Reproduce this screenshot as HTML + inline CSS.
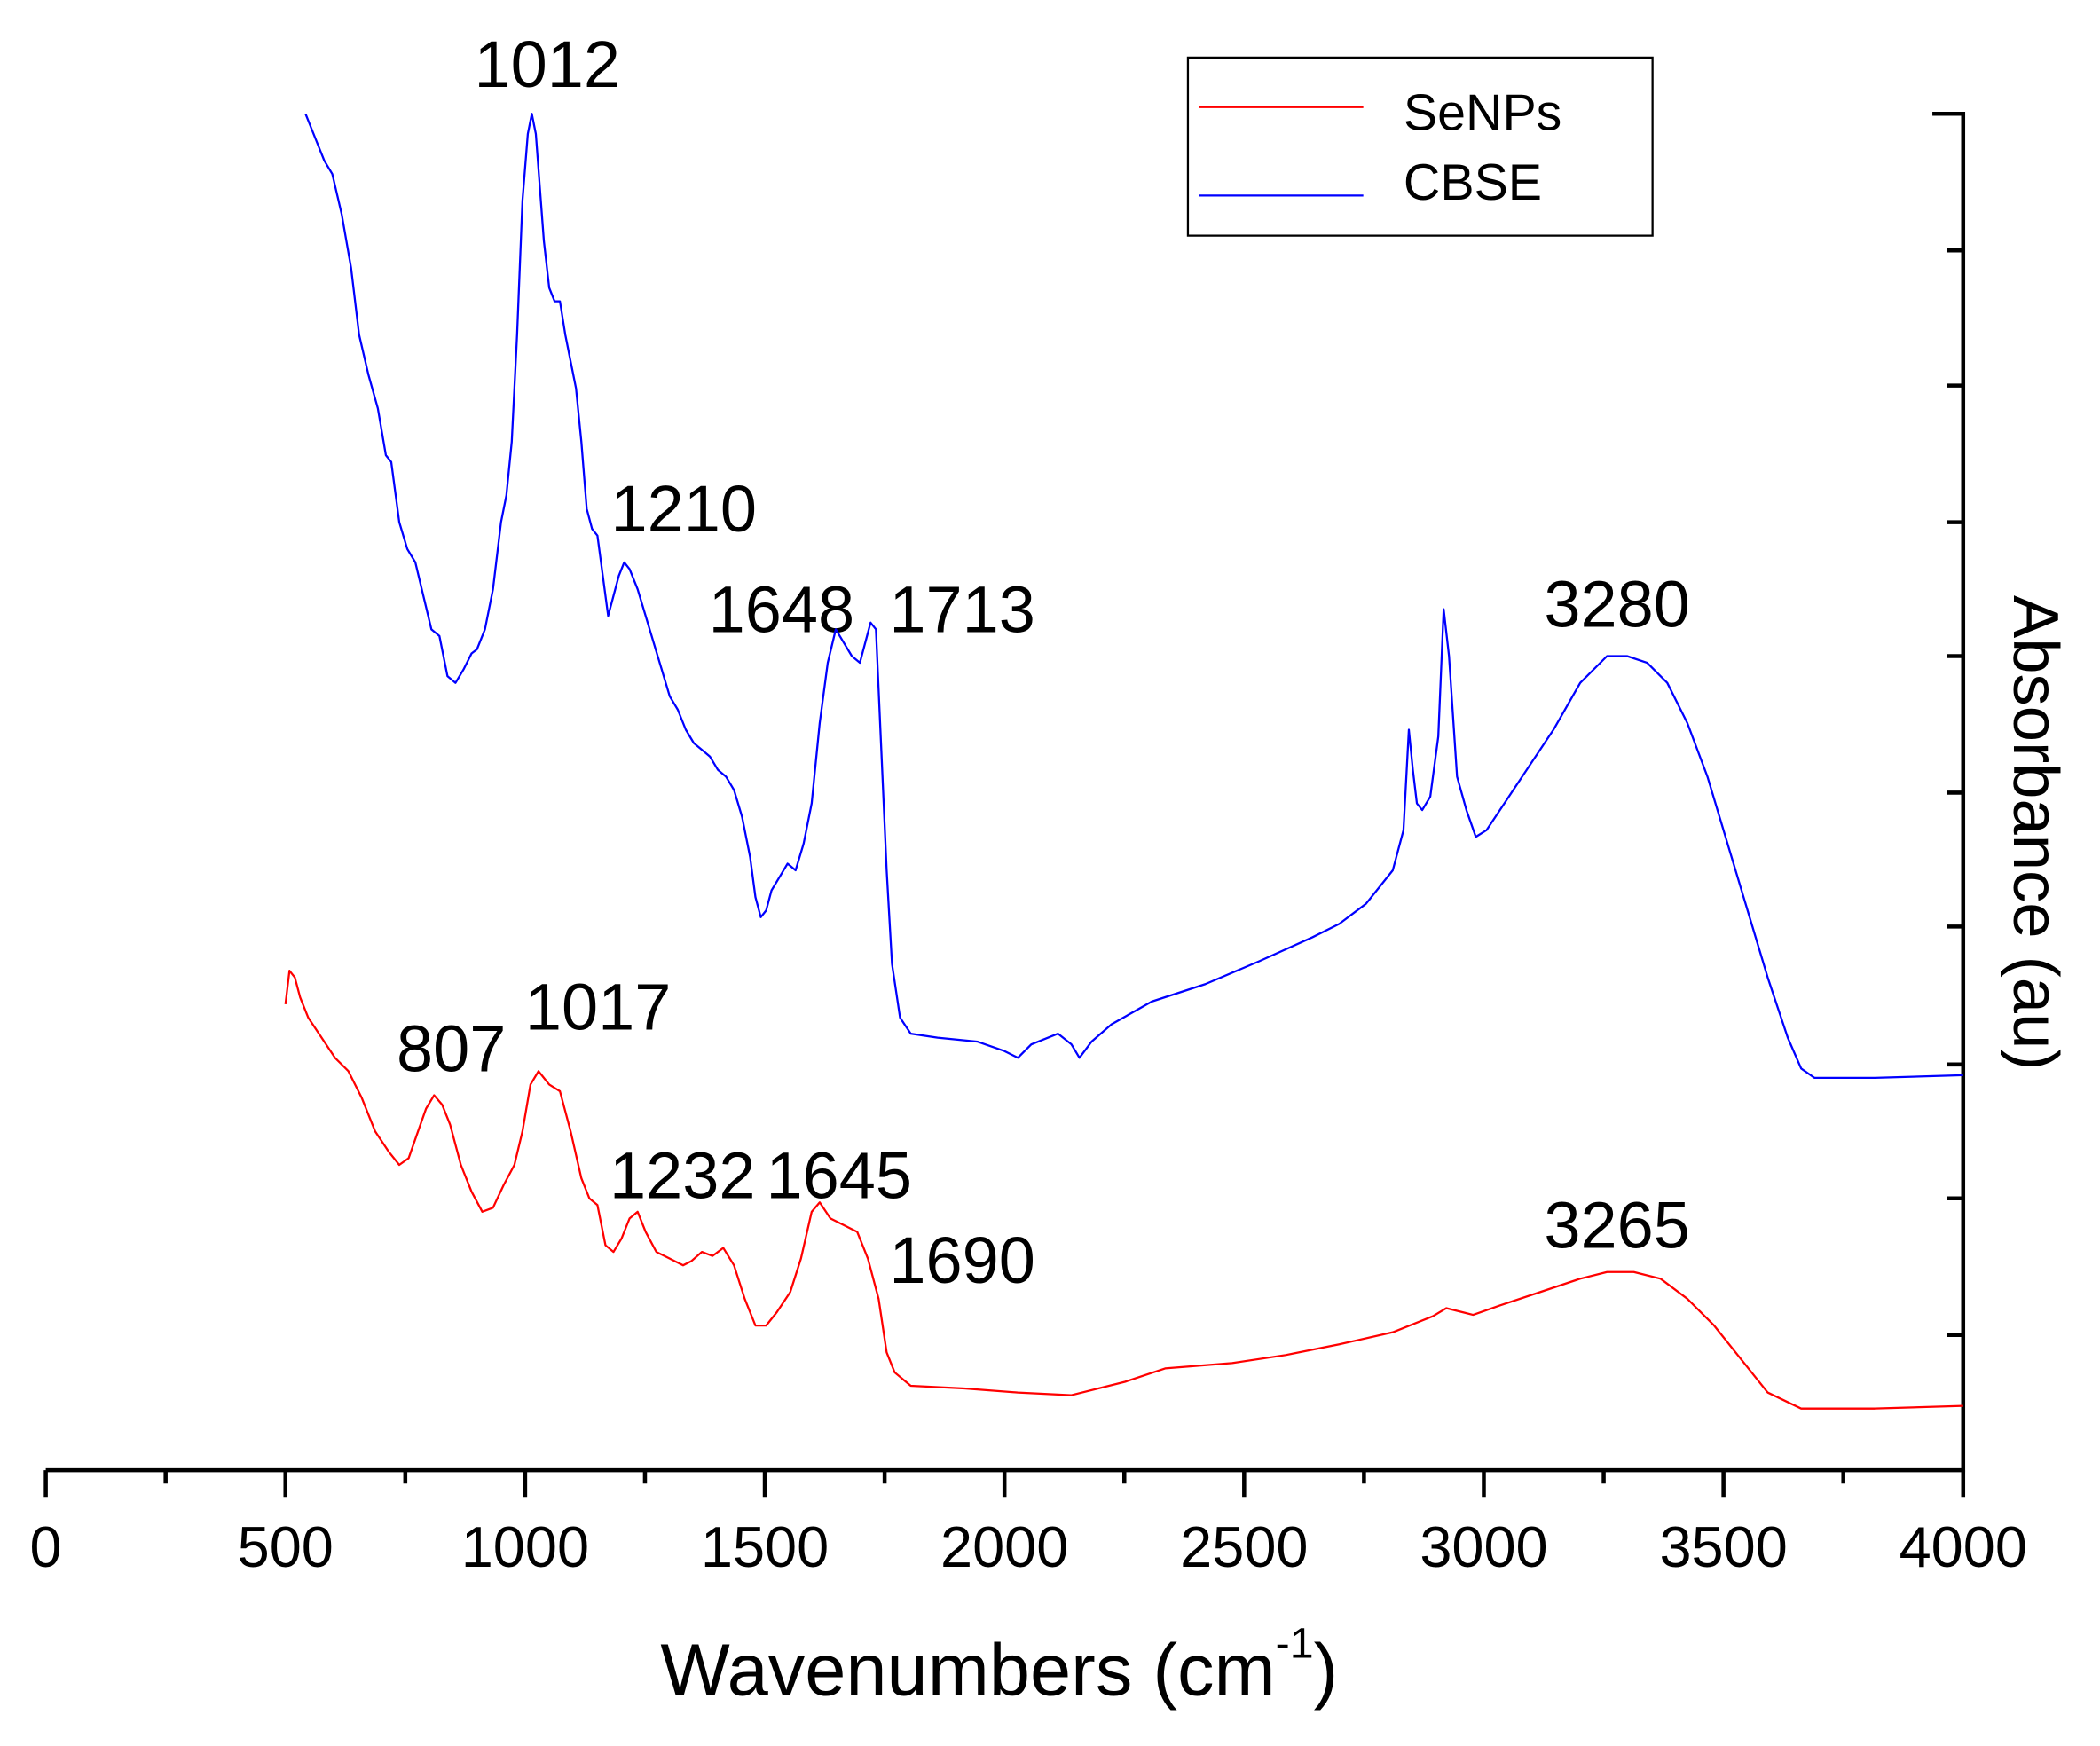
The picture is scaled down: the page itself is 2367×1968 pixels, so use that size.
<!DOCTYPE html>
<html><head><meta charset="utf-8"><style>html,body{margin:0;padding:0;background:#fff}svg{display:block}</style></head>
<body>
<svg width="2367" height="1968" viewBox="0 0 1568 1304" xmlns="http://www.w3.org/2000/svg" font-family="Liberation Sans, Arial, sans-serif">
<rect width="1568" height="1304" fill="#fff"/>
<g stroke="#000" stroke-width="3" fill="none">
<path d="M34,1098 H1466 V85 H1443"/>
<path d="M34,1098v20 M213,1098v20 M392,1098v20 M571,1098v20 M750,1098v20 M929,1098v20 M1108,1098v20 M1287,1098v20 M1466,1098v20"/>
<path d="M123.5,1098v10 M302.5,1098v10 M481.5,1098v10 M660.5,1098v10 M839.5,1098v10 M1018.5,1098v10 M1197.5,1098v10 M1376.5,1098v10"/>
<path d="M1466,187h-12 M1466,288h-12 M1466,390h-12 M1466,490h-12 M1466,592h-12 M1466,692h-12 M1466,795h-12 M1466,895h-12 M1466,997h-12"/>
</g>
<g font-size="43" text-anchor="middle" fill="#000">
<text x="34" y="1170">0</text><text x="213" y="1170">500</text><text x="392" y="1170">1000</text><text x="571" y="1170">1500</text><text x="750" y="1170">2000</text><text x="929" y="1170">2500</text><text x="1108" y="1170">3000</text><text x="1287" y="1170">3500</text><text x="1466" y="1170">4000</text>
</g>
<text x="493" y="1266" font-size="55">Wavenumbers (cm<tspan font-size="32" dy="-28">-1</tspan><tspan dy="28">)</tspan></text>
<text transform="translate(1504,622) rotate(90)" text-anchor="middle" font-size="48">Absorbance (au)</text>
<rect x="887" y="43" width="347" height="133" fill="#fff" stroke="#000" stroke-width="1.5"/>
<line x1="895" y1="80" x2="1018" y2="80" stroke="#f00" stroke-width="1.5"/>
<line x1="895" y1="146" x2="1018" y2="146" stroke="#00f" stroke-width="1.5"/>
<text x="1048" y="97" font-size="38">SeNPs</text>
<text x="1048" y="149" font-size="38">CBSE</text>
<g font-size="49" fill="#000">
<text x="354" y="65">1012</text>
<text x="456" y="397">1210</text>
<text x="529" y="472">1648</text>
<text x="664" y="472">1713</text>
<text x="1153" y="468">3280</text>
<text x="296" y="800">807</text>
<text x="392" y="769">1017</text>
<text x="455" y="895">1232</text>
<text x="572" y="895">1645</text>
<text x="664" y="958">1690</text>
<text x="1153" y="932">3265</text>
</g>
<polyline fill="none" stroke="#00f" stroke-width="1.5" stroke-linejoin="round" points="228,85 232,95 238,110 242,120 248,130 255,160 262,200 268,250 275,280 282,305 288,340 292,345 298,390 304,410 310,420 316,445 322,470 328,475 334,505 340,510 346,500 352,488 356,485 362,470 368,440 374,390 378,370 382,330 386,250 390,150 394,100 397,85 400,100 403,140 406,180 410,215 414,225 418,225 422,250 426,270 430,290 434,330 438,380 442,395 446,400 450,430 454,460 458,445 462,430 466,420 470,425 476,440 482,460 488,480 494,500 500,520 506,530 512,545 518,555 524,560 530,565 536,575 542,580 548,590 554,610 560,640 564,670 568,685 572,680 576,665 582,655 588,645 594,650 600,630 606,600 612,540 618,495 624,470 630,480 636,490 642,495 646,480 650,465 654,470 658,560 662,650 666,720 672,760 680,772 700,775 730,778 750,785 760,790 770,780 790,772 800,780 806,790 815,778 830,765 860,748 900,735 940,718 980,700 1000,690 1020,675 1040,650 1048,620 1052,545 1055,575 1058,600 1062,605 1068,595 1074,550 1078,455 1082,490 1088,580 1095,605 1102,625 1110,620 1120,605 1140,575 1160,545 1180,510 1200,490 1215,490 1230,495 1245,510 1260,540 1275,580 1290,630 1305,680 1320,730 1335,775 1345,798 1355,805 1400,805 1466,803"/>
<polyline fill="none" stroke="#f00" stroke-width="1.5" stroke-linejoin="round" points="213,750 216,725 220,730 224,745 230,760 240,775 250,790 260,800 270,820 280,845 290,860 298,870 305,865 312,845 318,828 324,818 330,825 336,840 344,870 352,890 360,905 368,902 376,885 384,870 390,845 396,810 402,800 410,810 418,815 426,845 434,880 440,895 446,900 452,930 458,935 464,925 470,910 476,905 482,920 490,935 500,940 510,945 516,942 524,935 532,938 540,932 548,945 556,970 564,990 572,990 580,980 590,965 598,940 606,905 612,898 620,910 630,915 640,920 648,940 656,970 662,1010 668,1025 680,1035 720,1037 760,1040 800,1042 840,1032 870,1022 920,1018 960,1012 1000,1004 1040,995 1070,983 1080,977 1100,982 1120,975 1150,965 1180,955 1200,950 1220,950 1240,955 1260,970 1280,990 1300,1015 1320,1040 1345,1052 1400,1052 1466,1050"/>
</svg>
</body></html>
